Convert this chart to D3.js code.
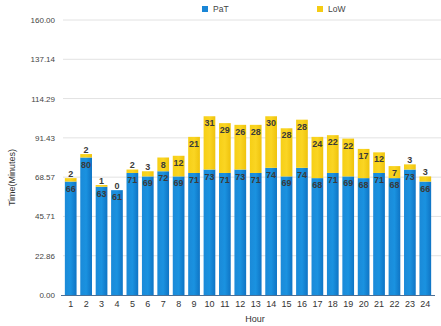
<!DOCTYPE html>
<html>
<head>
<meta charset="utf-8">
<script src="https://cdn.jsdelivr.net/npm/d3@7"></script>
<style>
  html, body { margin: 0; padding: 0; background: #fff; }
  svg { display: block; font-family: "Liberation Sans", Arial, sans-serif; }
</style>
</head>
<body>
<svg id="chart" width="441" height="326"></svg>
<script>
// Hourly time split, minutes
const hours = ["1","2","3","4","5","6","7","8","9","10","11","12","13","14","15","16","17","18","19","20","21","22","23","24"];
const pat = [66, 80, 63, 61, 71, 69, 72, 69, 71, 73, 71, 73, 71, 74, 69, 74, 68, 71, 69, 68, 71, 68, 73, 66];
const low = [2, 2, 1, 0, 2, 3, 8, 12, 21, 31, 29, 26, 28, 30, 28, 28, 24, 22, 22, 17, 12, 7, 3, 3];
const yTicks = [0, 22.86, 45.71, 68.57, 91.43, 114.29, 137.14, 160];
const seriesNames = ["PaT", "LoW"];

const svg = d3.select("#chart");
const W = 441, H = 326;
const m = { left: 63, right: 8, top: 20, bottom: 31 };

const x = d3.scaleBand().domain(hours).range([m.left, W - m.right]).paddingInner(0.24).paddingOuter(0.12);
const y = d3.scaleLinear().domain([0, 160]).range([H - m.bottom, m.top]);

const defs = svg.append("defs");
const gBlue = defs.append("linearGradient").attr("id", "gBlue").attr("x1", 0).attr("x2", 1).attr("y1", 0).attr("y2", 0);
gBlue.append("stop").attr("offset", "0%").attr("stop-color", "#1b8ad8");
gBlue.append("stop").attr("offset", "50%").attr("stop-color", "#1a92e0");
gBlue.append("stop").attr("offset", "100%").attr("stop-color", "#0f74c4");
const gYel = defs.append("linearGradient").attr("id", "gYel").attr("x1", 0).attr("x2", 1).attr("y1", 0).attr("y2", 0);
gYel.append("stop").attr("offset", "0%").attr("stop-color", "#f6cf16");
gYel.append("stop").attr("offset", "50%").attr("stop-color", "#fad523");
gYel.append("stop").attr("offset", "100%").attr("stop-color", "#efc30c");

// grid + y axis
const yAxis = d3.axisLeft(y).tickValues(yTicks).tickFormat(d => d.toFixed(2)).tickSize(0).tickPadding(8);
const ga = svg.append("g").attr("transform", `translate(${m.left},0)`).call(yAxis);
ga.select(".domain").remove();
ga.selectAll("text").attr("fill", "#444").style("font-size", "8px");

svg.append("g").selectAll("line").data(yTicks.filter(d => d > 0)).join("line")
  .attr("x1", m.left).attr("x2", W).attr("y1", d => y(d)).attr("y2", d => y(d))
  .attr("stroke", "#e2e2e2").attr("stroke-width", 1);

// bars
const g = svg.append("g");
g.selectAll(".pat").data(hours).join("rect")
  .attr("x", d => x(d)).attr("width", x.bandwidth())
  .attr("y", (d, i) => y(pat[i])).attr("height", (d, i) => y(0) - y(pat[i]))
  .attr("fill", "url(#gBlue)");
g.selectAll(".low").data(hours).join("rect")
  .attr("x", d => x(d)).attr("width", x.bandwidth())
  .attr("y", (d, i) => y(pat[i] + low[i])).attr("height", (d, i) => y(pat[i]) - y(pat[i] + low[i]))
  .attr("fill", "url(#gYel)");

// baseline
svg.append("line").attr("x1", m.left - 2).attr("x2", W - m.right + 2)
  .attr("y1", y(0) + 0.5).attr("y2", y(0) + 0.5).attr("stroke", "#4a6f96").attr("stroke-width", 1.2);

// value labels
const lab = svg.append("g").attr("text-anchor", "middle").style("font-size", "9px").style("font-weight", "bold").attr("fill", "#3a3a3a");
lab.selectAll(".lp").data(hours).join("text")
  .attr("x", d => x(d) + x.bandwidth() / 2)
  .attr("y", (d, i) => y(pat[i]) + 10)
  .text((d, i) => pat[i]);
lab.selectAll(".ll").data(hours).join("text")
  .attr("x", d => x(d) + x.bandwidth() / 2)
  .attr("y", (d, i) => {
    const h = y(pat[i]) - y(pat[i] + low[i]);
    return h < 11 ? y(pat[i] + low[i]) - 1.5 : y(pat[i] + low[i]) + 10;
  })
  .text((d, i) => low[i]);

// x axis labels
const xAxis = d3.axisBottom(x).tickSize(0).tickPadding(6);
const gx = svg.append("g").attr("transform", `translate(0,${y(0)})`).call(xAxis);
gx.select(".domain").remove();
gx.selectAll("text").attr("fill", "#333").style("font-size", "9px");

// axis titles
svg.append("text").attr("x", 255).attr("y", 322).attr("text-anchor", "middle")
  .style("font-size", "9px").attr("fill", "#333").text("Hour");
svg.append("text").attr("transform", `translate(15,${(y(0) + y(160)) / 2 + 20}) rotate(-90)`)
  .attr("text-anchor", "middle").style("font-size", "9px").attr("fill", "#333").text("Time(Minutes)");

// legend
const legend = svg.append("g");
const legX = [202, 317];
const legC = ["#1a86d6", "#f5cc14"];
seriesNames.forEach((n, i) => {
  legend.append("rect").attr("x", legX[i]).attr("y", 6).attr("width", 6).attr("height", 6).attr("fill", legC[i]);
  legend.append("text").attr("x", legX[i] + 11).attr("y", 12).style("font-size", "8.5px").attr("fill", "#444").text(n);
});
</script>
</body>
</html>
